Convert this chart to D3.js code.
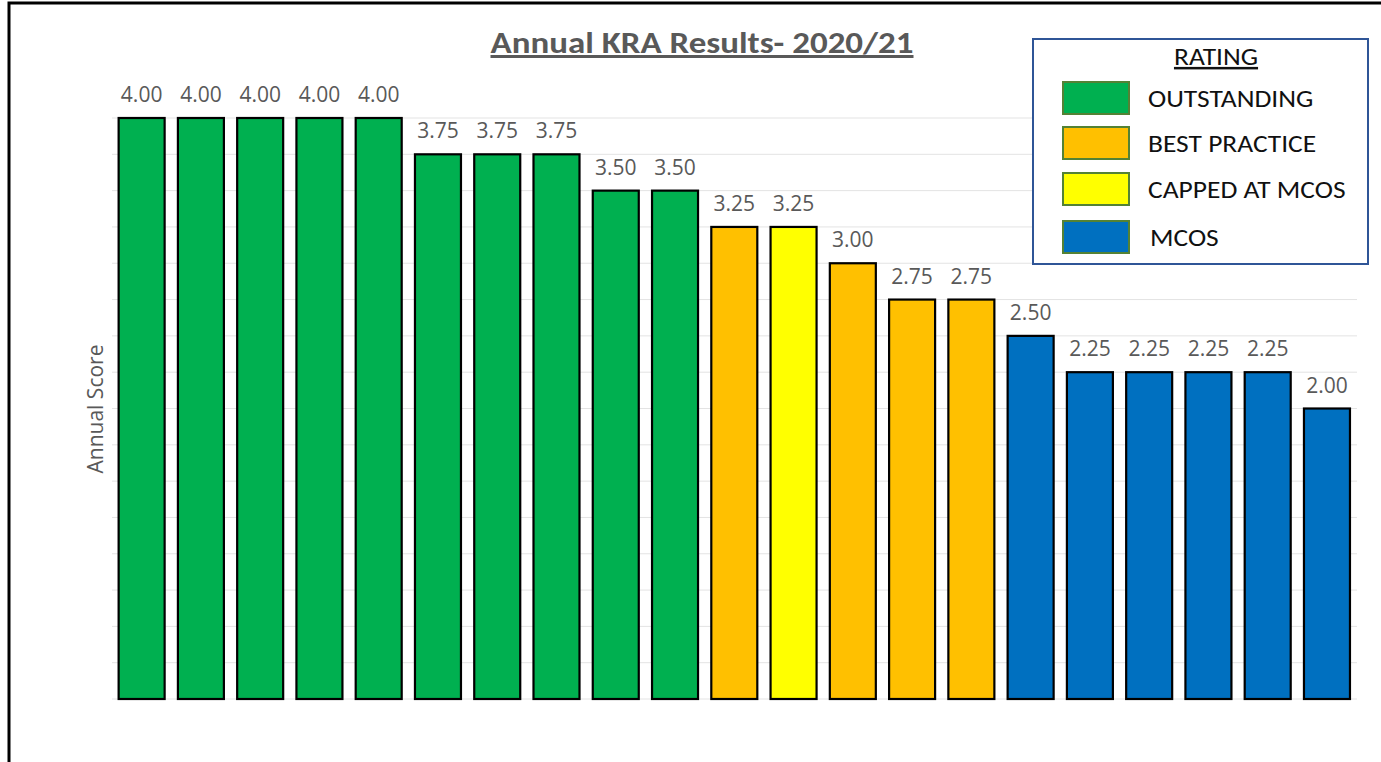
<!DOCTYPE html>
<meta charset="utf-8">
<script src="https://d3js.org/d3.v7.min.js"></script>
<style>
    body { margin: 0; background: #fff; }
    svg { display: block; }
</style>
<body>
</body>
<script>
    // scores for each KRA, in the order they are plotted
    var scores = [4.00, 4.00, 4.00, 4.00, 4.00, 3.75, 3.75, 3.75, 3.50, 3.50,
                  3.25, 3.25, 3.00, 2.75, 2.75, 2.50, 2.25, 2.25, 2.25, 2.25, 2.00];
    // rating of each bar (same order as scores)
    var ratings = ["OUTSTANDING", "OUTSTANDING", "OUTSTANDING", "OUTSTANDING", "OUTSTANDING",
                   "OUTSTANDING", "OUTSTANDING", "OUTSTANDING", "OUTSTANDING", "OUTSTANDING",
                   "BEST PRACTICE", "CAPPED AT MCOS", "BEST PRACTICE", "BEST PRACTICE", "BEST PRACTICE",
                   "MCOS", "MCOS", "MCOS", "MCOS", "MCOS", "MCOS"];
    var ratingNames = ["OUTSTANDING", "BEST PRACTICE", "CAPPED AT MCOS", "MCOS"];
    var ratingColors = ["#00B050", "#FFC000", "#FFFF00", "#0070C0"];
    var gridValues = [0, 0.25, 0.5, 0.75, 1, 1.25, 1.5, 1.75, 2, 2.25, 2.5, 2.75, 3, 3.25, 3.5, 3.75, 4];

    var width = 1381, height = 762;
    var calibri = "Carlito, 'Liberation Sans', sans-serif";
    var segoe = "'Open Sans', 'Noto Sans', sans-serif";

    var svg = d3.select("body")
        .append("svg")
            .attr("width", width)
            .attr("height", height);

    // outer frame
    svg.append("rect")
        .attr("x", 9).attr("y", 3)
        .attr("width", width + 10).attr("height", height + 10)
        .attr("fill", "#fff")
        .attr("stroke", "#000")
        .attr("stroke-width", 3);

    var x = d3.scaleBand()
        .domain(d3.range(scores.length))
        .range([112, 1356.6])
        .paddingInner(0.19)
        .paddingOuter(0.095);

    var y = d3.scaleLinear()
        .domain([0, 4])
        .range([699, 118]);

    var color = d3.scaleOrdinal().domain(ratingNames).range(ratingColors);

    // gridlines
    svg.append("g")
        .selectAll("line")
        .data(gridValues)
        .enter()
        .append("line")
            .attr("x1", 112).attr("x2", 1357)
            .attr("y1", function(d) { return y(d); })
            .attr("y2", function(d) { return y(d); })
            .attr("stroke", "#e3e3e3")
            .attr("stroke-width", 1);

    // bars
    svg.append("g")
        .selectAll("rect")
        .data(scores)
        .enter()
        .append("rect")
            .attr("x", function(d, i) { return x(i) + 1; })
            .attr("y", function(d) { return y(d); })
            .attr("width", x.bandwidth() - 2)
            .attr("height", function(d) { return y(0) - y(d); })
            .attr("fill", function(d, i) { return color(ratings[i]); })
            .attr("stroke", "#000")
            .attr("stroke-width", 2.2);

    // value labels
    svg.append("g")
        .selectAll("text")
        .data(scores)
        .enter()
        .append("text")
            .attr("x", function(d, i) { return x(i) + x.bandwidth() / 2; })
            .attr("y", function(d) { return y(d) - 16; })
            .attr("text-anchor", "middle")
            .attr("font-family", segoe)
            .attr("font-size", 21)
            .attr("fill", "#595959")
            .text(function(d) { return d3.format(".2f")(d); });

    // title
    svg.append("text")
        .attr("x", 702).attr("y", 53)
        .attr("text-anchor", "middle")
        .attr("font-family", calibri)
        .attr("font-size", 30)
        .attr("font-weight", "bold")
        .attr("fill", "#595959")
        .attr("text-decoration", "underline")
        .attr("textLength", 423)
        .attr("lengthAdjust", "spacingAndGlyphs")
        .text("Annual KRA Results- 2020/21");

    // y axis title
    svg.append("text")
        .attr("transform", "translate(103,409) rotate(-90)")
        .attr("text-anchor", "middle")
        .attr("font-family", segoe)
        .attr("font-size", 21)
        .attr("fill", "#595959")
        .text("Annual Score");

    // legend
    var legend = svg.append("g");
    legend.append("rect")
        .attr("x", 1033).attr("y", 39)
        .attr("width", 335).attr("height", 225)
        .attr("fill", "#fff")
        .attr("stroke", "#2F5597")
        .attr("stroke-width", 2);
    legend.append("text")
        .attr("transform", "translate(1216,65) scale(1.1,1)")
        .attr("text-anchor", "middle")
        .attr("font-family", calibri)
        .attr("font-size", 25)
        .attr("fill", "#111")
        .attr("text-decoration", "underline")
        .text("RATING");

    var rowY = [82, 127, 173, 221];
    var items = legend.selectAll("g.item")
        .data(ratingNames)
        .enter()
        .append("g")
            .attr("class", "item")
            .attr("transform", function(d, i) { return "translate(0," + rowY[i] + ")"; });
    items.append("rect")
        .attr("x", 1063).attr("y", 0)
        .attr("width", 66).attr("height", 32)
        .attr("fill", function(d) { return color(d); })
        .attr("stroke", "#548235")
        .attr("stroke-width", 2);
    items.append("text")
        .attr("transform", function(d) {
            return "translate(" + (d === "MCOS" ? 1150 : 1148) + ",25) scale(1.1,1)";
        })
        .attr("font-family", calibri)
        .attr("font-size", 25)
        .attr("fill", "#111")
        .text(function(d) { return d; });
</script>
